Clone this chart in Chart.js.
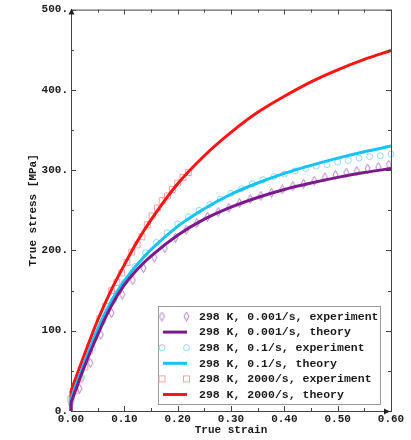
<!DOCTYPE html>
<html><head><meta charset="utf-8">
<script src="https://cdn.jsdelivr.net/npm/chart.js@4.4.0/dist/chart.umd.min.js"></script>
<style>html,body{margin:0;padding:0;background:#fff;}#wrap{width:411px;height:440px;position:relative;}</style>
</head><body><div id="wrap"><canvas id="c" width="411" height="440"></canvas></div>
<script>
// ---- data ----
const theoryStrain = [0, 0.025, 0.05, 0.075, 0.1, 0.125, 0.15, 0.2, 0.25, 0.3, 0.35, 0.4, 0.45, 0.5, 0.55, 0.6];
const theory0001 = [10, 55, 95, 130, 157, 177, 193, 219, 239, 254, 266, 276, 284, 291, 297, 302];
const theory01   = [15, 60, 102, 136, 162, 183, 201, 230, 252, 270, 284, 296, 306, 315, 323, 330];
const theory2000 = [25, 70, 113, 150, 182, 212, 238, 283, 318, 347, 372, 392, 410, 425, 438, 449];
// elastic jump at zero strain (vertical segment from 0 MPa)
const jumpStrain = [0, 0];

const exp0001Strain = [0.016, 0.036, 0.056, 0.076, 0.096, 0.116, 0.136, 0.156, 0.176, 0.196, 0.216, 0.236, 0.256, 0.276, 0.296, 0.316, 0.336, 0.356, 0.376, 0.396, 0.416, 0.436, 0.456, 0.476, 0.496, 0.516, 0.536, 0.556, 0.576, 0.596];
const exp0001Stress = [28, 60, 95, 122, 145, 163, 178, 191, 203, 216, 226, 234, 242, 248, 253, 259, 264, 268, 272, 276, 280, 283, 287, 291, 294, 297, 299, 302, 304, 307];

const exp01Strain = [0.00, 0.02, 0.04, 0.06, 0.08, 0.10, 0.12, 0.14, 0.16, 0.18, 0.20, 0.22, 0.24, 0.26, 0.28, 0.30, 0.32, 0.34, 0.36, 0.38, 0.40, 0.42, 0.44, 0.46, 0.48, 0.50, 0.52, 0.54, 0.56, 0.58, 0.60];
const exp01Stress = [10, 42, 78, 112, 138, 160, 180, 197, 210, 222, 233, 242, 250, 257, 264, 271, 277, 283, 288, 292, 295, 299, 302, 305, 307, 310, 312, 315, 317, 318, 320];

const exp2000Strain = [0.0, 0.008, 0.017, 0.026, 0.035, 0.043, 0.054, 0.065, 0.076, 0.086, 0.095, 0.105, 0.114, 0.124, 0.133, 0.143, 0.152, 0.162, 0.171, 0.181, 0.19, 0.2, 0.21, 0.22];
const exp2000Stress = [15, 25, 40, 55, 75, 92, 115, 130, 150, 160, 172, 185, 198, 207, 217, 232, 243, 253, 262, 268, 276, 284, 291, 297];

const xTickValues = [0, 0.1, 0.2, 0.3, 0.4, 0.5, 0.6];
const yTickValues = [0, 100, 200, 300, 400, 500];
const seriesLabels = ['298 K, 0.001/s, experiment', '298 K, 0.001/s, theory', '298 K, 0.1/s, experiment', '298 K, 0.1/s, theory', '298 K, 2000/s, experiment', '298 K, 2000/s, theory'];

// ---- helpers ----
const zip = (xs, ys) => xs.map((x, i) => ({x: x, y: ys[i]}));
const FONT = 'Liberation Mono';

function diamondImage(color) {
  const c = document.createElement('canvas');
  c.width = 7; c.height = 10;
  const g = c.getContext('2d');
  g.strokeStyle = color; g.lineWidth = 1;
  g.beginPath();
  g.moveTo(3.5, 0.5); g.lineTo(6, 5); g.lineTo(3.5, 9.5); g.lineTo(1, 5); g.closePath();
  g.stroke();
  return c;
}
const colDiamond = '#b07cc0', colCircle = '#8ed6f3', colSquare = '#f4a3a3';
const colPurple = '#7c1a8c', colCyan = '#14c4f4', colRed = '#ff1414';
const diamondImg = diamondImage(colDiamond);

function theorySet(label, ys, color) {
  return {label: label, data: zip(theoryStrain, ys), showLine: true, borderColor: color, borderWidth: 3,
    pointRadius: 0, cubicInterpolationMode: 'monotone', order: 1, clip: 3, _marker: 'line'};
}
function jumpSet(ys, color) {
  return {label: '', data: zip(jumpStrain, [0, ys[0]]), showLine: true, borderColor: color, borderWidth: 3,
    pointRadius: 0, tension: 0, order: 1, clip: 3, _hidden: true};
}

const datasets = [
  {label: seriesLabels[0], data: zip(exp0001Strain, exp0001Stress), showLine: false, pointStyle: diamondImg, borderColor: colDiamond, backgroundColor: 'transparent', clip: 6, order: 2, _marker: 'diamond'},
  theorySet(seriesLabels[1], theory0001, colPurple),
  {label: seriesLabels[2], data: zip(exp01Strain, exp01Stress), showLine: false, pointStyle: 'circle', pointRadius: 3, borderWidth: 1, borderColor: colCircle, backgroundColor: 'transparent', clip: 6, order: 2, _marker: 'circle'},
  theorySet(seriesLabels[3], theory01, colCyan),
  {label: seriesLabels[4], data: zip(exp2000Strain, exp2000Stress), showLine: false, pointStyle: 'rect', pointRadius: 4.2, borderWidth: 1, borderColor: colSquare, backgroundColor: 'transparent', clip: 6, order: 2, _marker: 'square'},
  theorySet(seriesLabels[5], theory2000, colRed),
  jumpSet(theory0001, colPurple),
  jumpSet(theory01, colCyan),
  jumpSet(theory2000, colRed)
];

function drawMarker(ctx, kind, color, x, y) {
  ctx.save();
  ctx.strokeStyle = color; ctx.lineWidth = 1;
  if (kind === 'diamond') {
    ctx.drawImage(diamondImg, x - 3.5, y - 5);
  } else if (kind === 'circle') {
    ctx.beginPath(); ctx.arc(x, y, 3, 0, Math.PI * 2); ctx.stroke();
  } else if (kind === 'square') {
    ctx.strokeRect(x - 3, y - 3, 6, 6);
  }
  ctx.restore();
}

const framePlugin = {
  id: 'frame',
  afterDraw(chart) {
    const {ctx, chartArea: a, scales: {x, y}} = chart;
    ctx.save();
    ctx.strokeStyle = '#444'; ctx.lineWidth = 1;
    // top and right borders
    ctx.beginPath();
    ctx.moveTo(a.left, a.top + 0.5); ctx.lineTo(a.right + 0.5, a.top + 0.5); ctx.lineTo(a.right + 0.5, a.bottom);
    ctx.stroke();
    // ticks (major + minor), pointing inward on all sides
    ctx.beginPath();
    for (let i = 0; i <= 12; i++) {
      const v = i * 0.05;
      const px = Math.round(x.getPixelForValue(v)) + 0.5;
      const len = i % 2 === 0 ? 5 : 3;
      ctx.moveTo(px, a.bottom); ctx.lineTo(px, a.bottom - len);
      ctx.moveTo(px, a.top); ctx.lineTo(px, a.top + len);
    }
    for (let i = 0; i <= 10; i++) {
      const v = i * 50;
      const py = Math.round(y.getPixelForValue(v)) + 0.5;
      const len = i % 2 === 0 ? 5 : 3;
      ctx.moveTo(a.left, py); ctx.lineTo(a.left + len, py);
      ctx.moveTo(a.right, py); ctx.lineTo(a.right - len, py);
    }
    ctx.stroke();
    // arrows
    ctx.fillStyle = '#222';
    ctx.beginPath();
    ctx.moveTo(a.left + 0.5, a.top - 1); ctx.lineTo(a.left - 2.5, a.top + 5); ctx.lineTo(a.left + 3.5, a.top + 5); ctx.closePath();
    ctx.fill();
    ctx.beginPath();
    ctx.moveTo(a.right - 1, a.bottom + 0.5); ctx.lineTo(a.right - 7, a.bottom - 2.5); ctx.lineTo(a.right - 7, a.bottom + 3.5); ctx.closePath();
    ctx.fill();

    // legend box
    const bx = 158.5, by = 306.5, bw = 222, bh = 98;
    ctx.fillStyle = '#fff';
    ctx.fillRect(bx, by, bw, bh);
    ctx.strokeStyle = '#9a9a9a';
    ctx.strokeRect(bx, by, bw, bh);
    ctx.font = 'bold 11.5px "' + FONT + '"';
    ctx.textBaseline = 'middle';
    ctx.textAlign = 'left';
    chart.data.datasets.filter(ds => !ds._hidden).forEach((ds, i) => {
      const ry = 316.5 + i * 15.6;
      if (ds._marker === 'line') {
        ctx.strokeStyle = ds.borderColor; ctx.lineWidth = 3;
        ctx.beginPath(); ctx.moveTo(163, ry); ctx.lineTo(187, ry); ctx.stroke();
      } else {
        drawMarker(ctx, ds._marker, ds.borderColor, 162, ry);
        drawMarker(ctx, ds._marker, ds.borderColor, 186.5, ry);
      }
      ctx.fillStyle = '#1a1a1a';
      ctx.fillText(ds.label, 199, ry + 0.5);
    });
    ctx.restore();
  }
};

new Chart(document.getElementById('c'), {
  type: 'scatter',
  data: {datasets: datasets},
  options: {
    responsive: false,
    animation: false,
    devicePixelRatio: 1,
    layout: {padding: {top: 9, right: 20, left: 0, bottom: 0}},
    plugins: {legend: {display: false}, tooltip: {enabled: false}},
    scales: {
      x: {
        type: 'linear', min: 0, max: 0.6,
        afterBuildTicks: s => { s.ticks = xTickValues.map(v => ({value: v})); },
        afterFit: s => { s.height = 29; },
        ticks: {padding: 2, maxRotation: 0, autoSkip: false, color: '#1a1a1a',
          font: {family: FONT, weight: 'bold', size: 11},
          callback: v => Number(v).toFixed(2)},
        grid: {display: true, drawOnChartArea: false, drawTicks: false},
        border: {display: true, color: '#444', width: 1},
        title: {display: true, text: 'True strain', color: '#1a1a1a',
          font: {family: FONT, weight: 'bold', size: 11}, padding: {top: 0, bottom: 3}}
      },
      y: {
        type: 'linear', min: 0, max: 500,
        afterBuildTicks: s => { s.ticks = yTickValues.map(v => ({value: v})); },
        afterFit: s => { s.width = 71; },
        ticks: {padding: 3, color: '#1a1a1a',
          font: {family: FONT, weight: 'bold', size: 11},
          callback: v => v + '.'},
        grid: {display: true, drawOnChartArea: false, drawTicks: false},
        border: {display: true, color: '#444', width: 1},
        title: {display: true, text: 'True stress [MPa]', color: '#1a1a1a',
          font: {family: FONT, weight: 'bold', size: 11}, padding: {top: 27, bottom: 0}}
      }
    }
  },
  plugins: [framePlugin]
});
</script></body></html>
